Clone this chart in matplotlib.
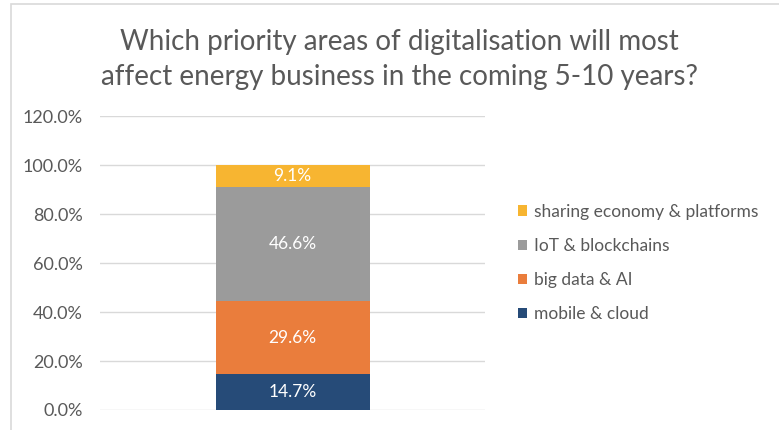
import matplotlib
matplotlib.use('Agg')
import matplotlib.pyplot as plt
from matplotlib.patches import Rectangle

plt.rcParams['font.family'] = ['Lato', 'DejaVu Sans']

categories = ['mobile & cloud', 'big data & AI', 'IoT & blockchains',
              'sharing economy & platforms']
values = [14.7, 29.6, 46.6, 9.1]
colors = ['#264b78', '#ea7d3c', '#9b9b9b', '#f7b531']
yticks = [0, 20, 40, 60, 80, 100, 120]
title = ('Which priority areas of digitalisation will most\n'
         'affect energy business in the coming 5-10 years?')


def chart():
    fig = plt.figure(figsize=(7.79, 4.30), dpi=100)
    fig.patches.append(Rectangle((11 / 779, -0.1), 1.2, 1.1 - 4 / 430,
                                 transform=fig.transFigure, fill=False,
                                 edgecolor='#d9d9d9', linewidth=1.2))
    ax = fig.add_axes([100 / 779, 1 - 410 / 430, 385 / 779, 294 / 430])

    bottom = 0
    handles = []
    for name, val, col in zip(categories, values, colors):
        b = ax.bar(0, val, width=0.4, bottom=bottom, color=col,
                   label=name, zorder=3)
        handles.append(b)
        ax.text(0, bottom + val / 2, f'{val:.1f}%', ha='center',
                va='center', color='white', fontsize=12.5, zorder=4)
        bottom += val

    ax.set_xlim(-0.5, 0.5)
    ax.set_ylim(0, 120)
    ax.set_yticks(yticks)
    ax.set_yticklabels([f'{t:.1f}%' for t in yticks])
    ax.set_xticks([])
    ax.tick_params(axis='y', length=0, labelsize=13, labelcolor='#595959',
                   pad=12.5)
    ax.grid(axis='y', color='#d9d9d9', linewidth=1, zorder=0)
    for s in ax.spines.values():
        s.set_visible(False)

    fig.text(0.513, 0.862, title, ha='center', va='center', fontsize=20,
             color='#595959', linespacing=1.42)

    leg = fig.legend(handles[::-1], categories[::-1],
                     loc='center left', bbox_to_anchor=(502 / 779, 1 - 263 / 430),
                     frameon=False, fontsize=12.5, handlelength=0.55,
                     handleheight=0.55, handletextpad=0.4, labelspacing=1.05)
    for t in leg.get_texts():
        t.set_color('#595959')

    fig.savefig('out.png', dpi=100)


if __name__ == "__main__":
    chart()
